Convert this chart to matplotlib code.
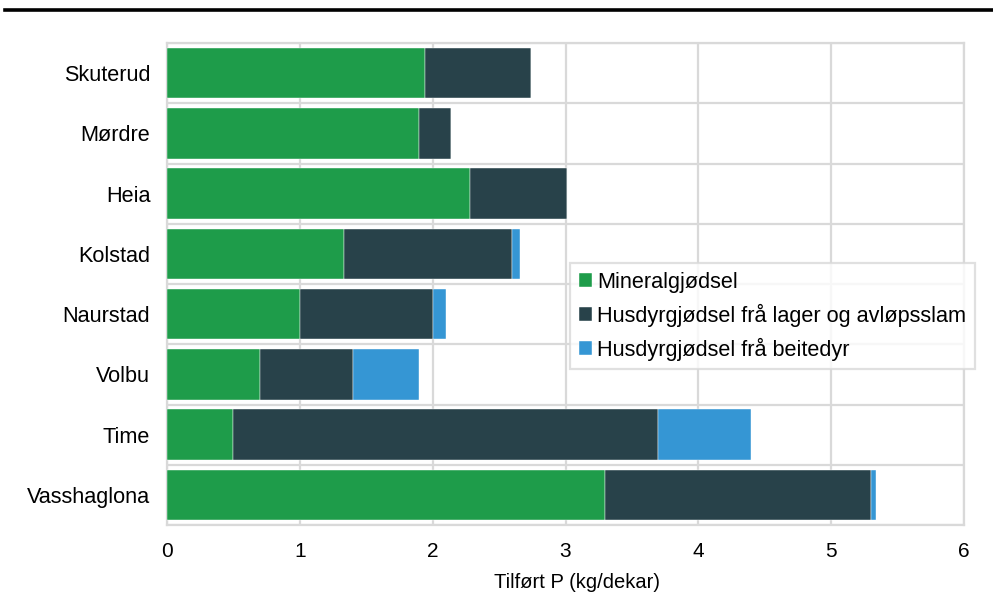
import matplotlib
matplotlib.use("Agg")
import matplotlib.pyplot as plt
from matplotlib.lines import Line2D
import numpy as np

plt.rcParams['font.family'] = ['Liberation Sans', 'DejaVu Sans']

categories = ["Skuterud", "Mørdre", "Heia", "Kolstad", "Naurstad", "Volbu", "Time", "Vasshaglona"]
mineral = [1.94, 1.90, 2.28, 1.33, 1.00, 0.70, 0.50, 3.30]
lager = [0.80, 0.24, 0.73, 1.27, 1.00, 0.70, 3.20, 2.00]
beite = [0.00, 0.00, 0.00, 0.06, 0.10, 0.50, 0.70, 0.04]
series_names = ["Mineralgjødsel", "Husdyrgjødsel frå lager og avløpsslam", "Husdyrgjødsel frå beitedyr"]
colors = ["#1e9c4a", "#28424a", "#3596d4"]
xticks = [0, 1, 2, 3, 4, 5, 6]

fig = plt.figure(figsize=(9.93, 5.98), dpi=100)
ax = fig.add_axes([167/993, 1-525/598, (964-167)/993, (525-43)/598])

y = np.arange(len(categories))
left = np.zeros(len(categories))
for vals, name, c in zip([mineral, lager, beite], series_names, colors):
    v = np.array(vals)
    ax.barh(y, v, left=left, height=0.84, color=c, edgecolor='white', linewidth=0.3, label=name, zorder=3)
    left += v

ax.set_ylim(len(categories) - 0.5, -0.5)
ax.set_xlim(0, 6)
ax.set_xticks(xticks)
ax.set_xticklabels([str(t) for t in xticks])
ax.set_yticks(y)
ax.set_yticklabels(categories)
ax.set_yticks(np.arange(-0.5, len(categories), 1), minor=True)
ax.grid(True, axis='x', color='#d9d9d9', linewidth=1.6, zorder=0)
ax.grid(True, axis='y', which='minor', color='#d9d9d9', linewidth=1.6, zorder=0)
ax.grid(False, axis='y', which='major')
ax.tick_params(axis='both', which='both', length=0, colors='black')
ax.tick_params(axis='y', pad=12, labelsize=15.6)
ax.tick_params(axis='x', pad=12, labelsize=15)
for s in ax.spines.values():
    s.set_color('#d9d9d9')
    s.set_linewidth(1.6)
ax.set_xlabel("Tilført P (kg/dekar)", fontsize=14.5, labelpad=9)
ax.xaxis.label.set_x(0.515)

leg = fig.legend(loc='upper left', bbox_to_anchor=(570/993, 1-263/598), fontsize=15.6,
                 frameon=True, fancybox=False, handlelength=0.6, handleheight=0.6,
                 handletextpad=0.25, borderpad=0.4, labelspacing=0.5, borderaxespad=0)
leg.get_frame().set_edgecolor('#d9d9d9')
leg.get_frame().set_linewidth(1.6)
leg.set_zorder(10)

fig.add_artist(Line2D([5/993, 1.0], [1-9.5/598, 1-9.5/598], color='black', linewidth=2.6, transform=fig.transFigure))

fig.savefig("out.png", dpi=100)
